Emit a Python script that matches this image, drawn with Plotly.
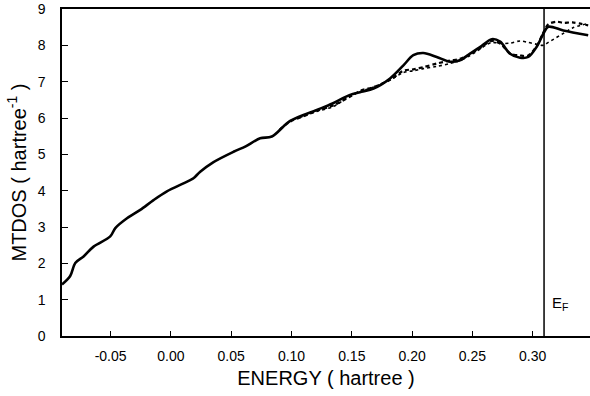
import plotly.graph_objects as go

# Solid curve
energy_solid = [-0.0903, -0.0835, -0.0793, -0.0724, -0.0641, -0.0503, -0.0461, -0.0364,
                -0.0254, -0.0144, -0.0033, 0.0104, 0.016, 0.0187, 0.0243, 0.035, 0.0519,
                0.062, 0.074, 0.0837, 0.0989, 0.121, 0.134, 0.148, 0.158, 0.168, 0.1817,
                0.1928, 0.201, 0.2093, 0.2204, 0.2315, 0.2397, 0.248, 0.2563, 0.266, 0.273,
                0.2812, 0.2895, 0.2963, 0.3033, 0.3088, 0.3129, 0.3254, 0.346]
mtdos_solid = [1.42, 1.65, 2.01, 2.19, 2.46, 2.74, 2.97, 3.24,
               3.47, 3.74, 3.98, 4.20, 4.29, 4.34, 4.52, 4.78, 5.07,
               5.22, 5.44, 5.49, 5.92, 6.22, 6.40, 6.63, 6.72, 6.81, 7.09,
               7.45, 7.73, 7.79, 7.68, 7.55, 7.59, 7.77, 7.95, 8.17, 8.10,
               7.77, 7.66, 7.68, 7.96, 8.32, 8.51, 8.41, 8.28]

# Dashed curve
energy_dashed = [0.09, 0.0989, 0.11, 0.121, 0.135, 0.148, 0.158, 0.168, 0.1817, 0.1928,
                 0.201, 0.2093, 0.2204, 0.2315, 0.2397, 0.248, 0.2563, 0.266, 0.273,
                 0.2812, 0.2895, 0.2963, 0.3033, 0.3088, 0.3129, 0.32, 0.3254, 0.333, 0.346]
mtdos_dashed = [5.67, 5.90, 6.05, 6.20, 6.35, 6.58, 6.76, 6.85, 7.05, 7.30,
                7.34, 7.40, 7.50, 7.58, 7.63, 7.75, 7.92, 8.12, 8.05,
                7.78, 7.72, 7.72, 7.98, 8.35, 8.58, 8.65, 8.62, 8.63, 8.55]

# Dotted curve
energy_dotted = [0.09, 0.0989, 0.11, 0.121, 0.135, 0.148, 0.158, 0.168, 0.1817, 0.1928,
                 0.201, 0.2093, 0.2204, 0.2315, 0.2397, 0.248, 0.2563, 0.266, 0.273,
                 0.2812, 0.2895, 0.2963, 0.3033, 0.3088, 0.3129, 0.3254, 0.333, 0.346]
mtdos_dotted = [5.67, 5.92, 6.05, 6.18, 6.32, 6.60, 6.74, 6.85, 7.05, 7.25,
                7.30, 7.36, 7.42, 7.50, 7.58, 7.72, 7.90, 8.08, 8.05,
                8.06, 8.12, 8.08, 8.03, 8.00, 8.08, 8.33, 8.48, 8.60]

fermi_energy = 0.3094
x_ticks = [-0.05, 0.00, 0.05, 0.10, 0.15, 0.20, 0.25, 0.30]
x_ticktext = ["-0.05", "0.00", "0.05", "0.10", "0.15", "0.20", "0.25", "0.30"]
y_ticks = [0, 1, 2, 3, 4, 5, 6, 7, 8, 9]

FONT = "Liberation Sans, Arial, Helvetica, sans-serif"

fig = go.Figure()
fig.add_trace(go.Scatter(x=energy_dotted, y=mtdos_dotted, mode="lines",
                         line=dict(color="black", width=1.6, dash="dot", shape="spline", smoothing=0.9),
                         showlegend=False))
fig.add_trace(go.Scatter(x=energy_dashed, y=mtdos_dashed, mode="lines",
                         line=dict(color="black", width=2.2, dash="4px,3px", shape="spline", smoothing=0.9),
                         showlegend=False))
fig.add_trace(go.Scatter(x=energy_solid, y=mtdos_solid, mode="lines",
                         line=dict(color="black", width=2.6, shape="spline", smoothing=0.9),
                         showlegend=False))

fig.add_shape(type="line", x0=fermi_energy, x1=fermi_energy, y0=0, y1=9,
              xref="x", yref="y", line=dict(color="black", width=1.5))
fig.add_annotation(x=fermi_energy, y=0.9, xref="x", yref="y",
                   text="E<sub>F</sub>", showarrow=False, xanchor="left", yanchor="middle",
                   xshift=6, font=dict(family=FONT, size=15, color="black"))

fig.update_layout(
    width=590, height=396,
    margin=dict(l=62, r=0, t=9, b=60),
    paper_bgcolor="white", plot_bgcolor="white",
    font=dict(family=FONT, color="black"),
    xaxis=dict(range=[-0.0903, 0.3475], tickvals=x_ticks, ticktext=x_ticktext,
               ticks="inside", ticklen=5, tickwidth=1.2, tickcolor="black",
               showline=True, linecolor="black", linewidth=1.5, mirror=True,
               showgrid=False, zeroline=False, tickfont=dict(size=14),
               ticklabelstandoff=6,
               title=dict(text="ENERGY ( hartree )", font=dict(size=20), standoff=8)),
    yaxis=dict(range=[0, 9], tickvals=y_ticks,
               ticks="inside", ticklen=6, tickwidth=1.2, tickcolor="black",
               showline=True, linecolor="black", linewidth=1.5, mirror=False,
               showgrid=False, zeroline=False, tickfont=dict(size=14),
               ticklabelstandoff=12,
               title=dict(text="MTDOS ( hartree<sup>-1</sup> )", font=dict(size=20), standoff=6)),
)

fig.write_html("out.html")
